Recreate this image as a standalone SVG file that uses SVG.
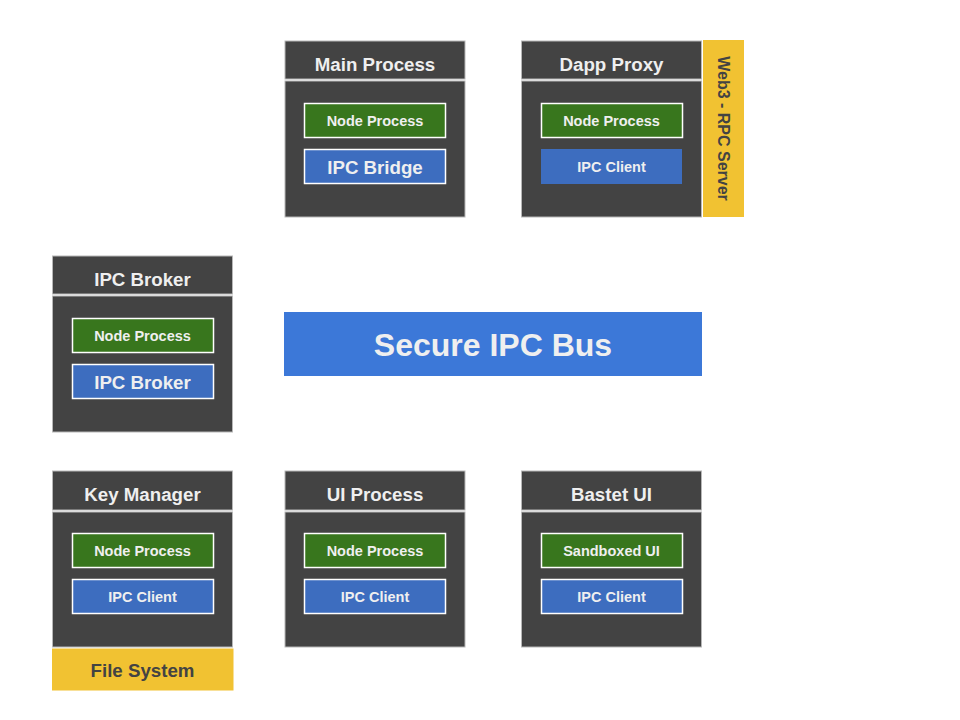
<svg xmlns="http://www.w3.org/2000/svg" width="960" height="720" viewBox="0 0 960 720">
<style>
.box{fill:#434343;stroke:#b7b7b7;stroke-width:1}
.green{fill:#38761d;stroke:#ffffff;stroke-width:1.5}
.blue{fill:#3d6dbf;stroke:#ffffff;stroke-width:1.5}
.bluen{fill:#3d6dbf}
.yellow{fill:#f1c232}
.bus{fill:#3c78d8}
text{font-family:"Liberation Sans",Arial,sans-serif;font-weight:bold;text-anchor:middle;dominant-baseline:central}
.t{fill:#efefef;font-size:18.7px}
.s{fill:#efefef;font-size:14.5px}
.d{fill:#434343}
</style>
<rect width="960" height="720" fill="#ffffff"/>
<g id="main-process">
<rect class="box" x="285" y="41" width="180" height="38"/>
<rect class="box" x="285" y="81" width="180" height="136"/>
<text class="t" x="375" y="64">Main Process</text>
<rect class="green" x="304.5" y="103.5" width="141" height="34"/>
<text class="s" x="375" y="120.5">Node Process</text>
<rect class="blue" x="304.5" y="149.5" width="141" height="34"/>
<text class="t" x="375" y="167">IPC Bridge</text>
</g>
<g id="dapp-proxy">
<rect class="box" x="521.5" y="41" width="180" height="38"/>
<rect class="box" x="521.5" y="81" width="180" height="136"/>
<text class="t" x="611.5" y="64">Dapp Proxy</text>
<rect class="green" x="541.5" y="103.5" width="141" height="34"/>
<text class="s" x="611.5" y="120.5">Node Process</text>
<rect class="bluen" x="541" y="149" width="141" height="35"/>
<text class="s" x="611.5" y="166.5">IPC Client</text>
</g>
<g id="web3-rpc-server">
<rect class="yellow" x="703" y="40" width="41" height="177"/>
<text class="d" x="0" y="0" font-size="16" transform="translate(723.5,128.5) rotate(90)">Web3 - RPC Server</text>
</g>
<g id="ipc-broker">
<rect class="box" x="52.5" y="256" width="180" height="38"/>
<rect class="box" x="52.5" y="296" width="180" height="136"/>
<text class="t" x="142.5" y="279">IPC Broker</text>
<rect class="green" x="72.5" y="318.5" width="141" height="34"/>
<text class="s" x="142.5" y="335.5">Node Process</text>
<rect class="blue" x="72.5" y="364.5" width="141" height="34"/>
<text class="t" x="142.5" y="382">IPC Broker</text>
</g>
<g id="secure-ipc-bus">
<rect class="bus" x="284" y="312" width="418" height="64"/>
<text x="493" y="345" font-size="32" fill="#efefef">Secure IPC Bus</text>
</g>
<g id="key-manager">
<rect class="box" x="52.5" y="471" width="180" height="39"/>
<rect class="box" x="52.5" y="512" width="180" height="135"/>
<text class="t" x="142.5" y="494">Key Manager</text>
<rect class="green" x="72.5" y="533.5" width="141" height="34"/>
<text class="s" x="142.5" y="551">Node Process</text>
<rect class="blue" x="72.5" y="579.5" width="141" height="34"/>
<text class="s" x="142.5" y="596.5">IPC Client</text>
</g>
<g id="file-system">
<rect class="yellow" x="52" y="648.5" width="181.5" height="42"/>
<text class="d" x="142.5" y="670" font-size="18.7">File System</text>
</g>
<g id="ui-process">
<rect class="box" x="285" y="471" width="180" height="39"/>
<rect class="box" x="285" y="512" width="180" height="135"/>
<text class="t" x="375" y="494">UI Process</text>
<rect class="green" x="304.5" y="533.5" width="141" height="34"/>
<text class="s" x="375" y="551">Node Process</text>
<rect class="blue" x="304.5" y="579.5" width="141" height="34"/>
<text class="s" x="375" y="596.5">IPC Client</text>
</g>
<g id="bastet-ui">
<rect class="box" x="521.5" y="471" width="180" height="39"/>
<rect class="box" x="521.5" y="512" width="180" height="135"/>
<text class="t" x="611.5" y="494">Bastet UI</text>
<rect class="green" x="541.5" y="533.5" width="141" height="34"/>
<text class="s" x="611.5" y="551">Sandboxed UI</text>
<rect class="blue" x="541.5" y="579.5" width="141" height="34"/>
<text class="s" x="611.5" y="596.5">IPC Client</text>
</g>
<g id="connectors"></g>
</svg>
